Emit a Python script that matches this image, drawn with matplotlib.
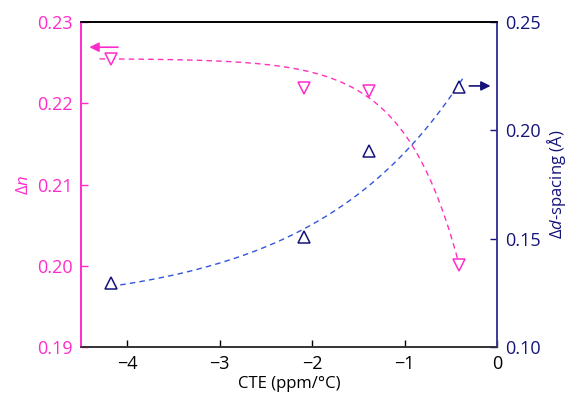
import matplotlib
matplotlib.use('Agg')
import matplotlib.pyplot as plt
import numpy as np

# ------------------------------------------------------------------
#  Data
# ------------------------------------------------------------------
cte = [-4.18, -2.09, -1.39, -0.41]
delta_n = [0.2254, 0.2219, 0.2215, 0.2001]
cte_d = [-4.18, -2.09, -1.39, -0.41]
delta_d = [0.1296, 0.1508, 0.1905, 0.2200]

# exponential fit parameters, y = a + b * exp(c * x)
fit_n = (0.2255, -0.0509, 1.70)
fit_n_range = (-4.30, -0.40)
fit_d = (0.118, 0.1333, 0.62)
fit_d_range = (-4.18, -0.36)

PINK = '#ff2ccc'
PINK_LINE = '#ff33bb'
NAVY = '#14147a'
BLUE_LINE = '#3355dd'

plt.rcParams['font.family'] = ['Open Sans', 'DejaVu Sans']
plt.rcParams['mathtext.fontset'] = 'custom'
plt.rcParams['mathtext.it'] = 'Open Sans:italic'
plt.rcParams['mathtext.rm'] = 'Open Sans'
plt.rcParams['axes.unicode_minus'] = True


def fit_curve(params, rng):
    a, b, c = params
    x = np.linspace(rng[0], rng[1], 200)
    return x, a + b * np.exp(c * x)


fig = plt.figure(figsize=(5.69, 3.96), dpi=100)
ax = fig.add_axes([0.1424, 0.1237, 0.7311, 0.8207])
ax2 = ax.twinx()

# left axis: delta n
x, y = fit_curve(fit_n, fit_n_range)
ax.plot(x, y, color=PINK_LINE, lw=1.0, ls=(0, (4, 3)), zorder=2)
ax.plot(cte, delta_n, ls='none', marker='v', ms=9, mfc='white',
        mec=PINK, mew=1.1, zorder=3)
ax.set_xlim(-4.5, 0)
ax.set_ylim(0.19, 0.23)
ax.set_yticks([0.19, 0.20, 0.21, 0.22, 0.23])
ax.set_yticklabels([f'{v:.2f}' for v in [0.19, 0.20, 0.21, 0.22, 0.23]])
ax.set_xticks([-4, -3, -2, -1, 0])
ax.set_xticklabels(['\u22124', '\u22123', '\u22122', '\u22121', '0'])
ax.set_xlabel('CTE (ppm/°C)', fontsize=12, labelpad=2)
ax.set_ylabel(r'Δ$\mathit{n}$', fontsize=12, color=PINK, labelpad=4)
ax.annotate('', xy=(-4.44, 0.2269), xytext=(-4.07, 0.2269),
            arrowprops=dict(arrowstyle='-|>', color=PINK, lw=1.2,
                            mutation_scale=14))

# right axis: delta d-spacing
x, y = fit_curve(fit_d, fit_d_range)
ax2.plot(x, y, color=BLUE_LINE, lw=1.0, ls=(0, (4, 3)), zorder=2)
ax2.plot(cte_d, delta_d, ls='none', marker='^', ms=9, mfc='white',
         mec=NAVY, mew=1.1, zorder=3)
ax2.set_ylim(0.10, 0.25)
ax2.set_yticks([0.10, 0.15, 0.20, 0.25])
ax2.set_yticklabels([f'{v:.2f}' for v in [0.10, 0.15, 0.20, 0.25]])
ax2.set_ylabel(r'Δ$\mathit{d}$-spacing (Å)', fontsize=12, color=NAVY,
               labelpad=3)
ax2.annotate('', xy=(-0.04, 0.2205), xytext=(-0.33, 0.2205),
             arrowprops=dict(arrowstyle='-|>', color=NAVY, lw=1.2,
                             mutation_scale=14))

# axis styling
for a in (ax, ax2):
    a.spines['left'].set_color(PINK)
    a.spines['right'].set_color('#3a3a9a')
    a.spines['top'].set_color('black')
    a.spines['bottom'].set_color('#333333')
    for s in a.spines.values():
        s.set_linewidth(1.2)

ax.tick_params(axis='x', direction='in', length=5, width=1, labelsize=13,
               colors='black', pad=6)
ax.tick_params(axis='y', direction='in', length=5, width=1, labelsize=13,
               colors=PINK, pad=6)
ax2.tick_params(axis='y', direction='in', length=5, width=1, labelsize=13,
                colors=NAVY, pad=6)

fig.savefig('out.png', dpi=100)
